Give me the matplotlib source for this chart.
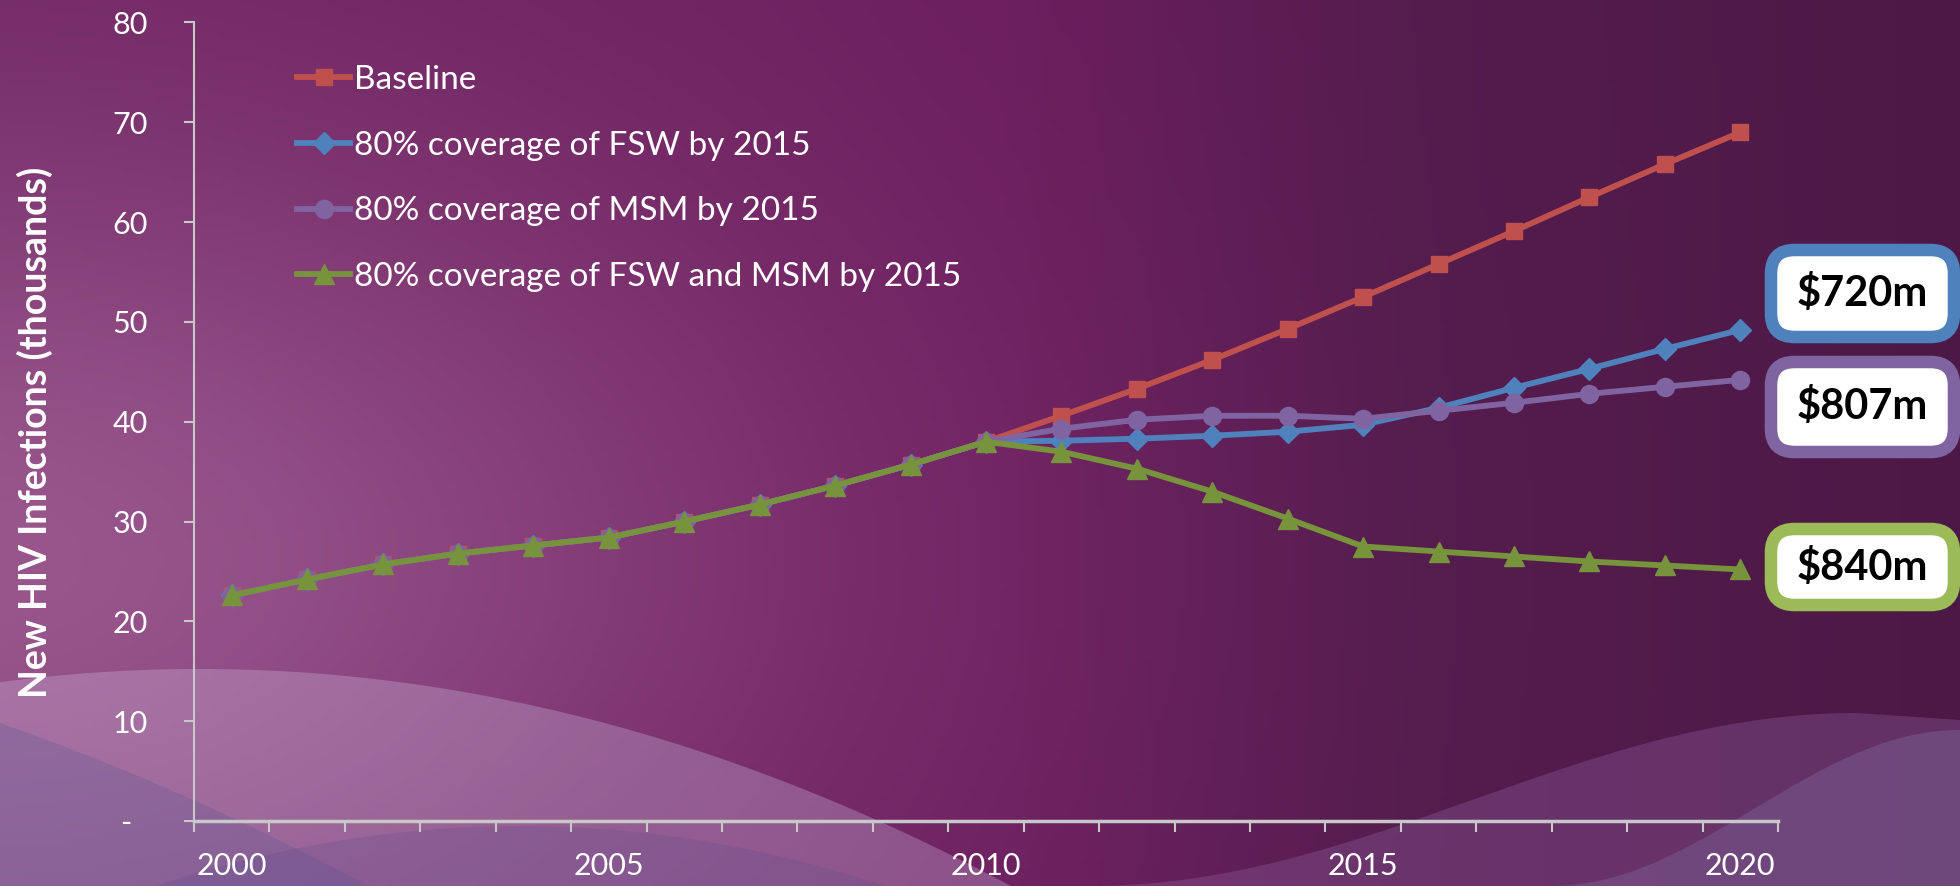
import matplotlib
matplotlib.use("Agg")
import matplotlib.pyplot as plt
import numpy as np
from matplotlib.patches import FancyBboxPatch

plt.rcParams["font.family"] = ["Lato", "DejaVu Sans"]

# données (milliers de nouvelles infections)
years = list(range(2000, 2021))
common = [22.6, 24.2, 25.7, 26.8, 27.6, 28.4, 30.0, 31.7, 33.6, 35.7, 38.0]
baseline = common + [40.6, 43.3, 46.2, 49.3, 52.5, 55.8, 59.1, 62.5, 65.8, 69.0]
fsw = common + [38.1, 38.3, 38.6, 39.0, 39.7, 41.4, 43.4, 45.3, 47.3, 49.2]
msm = common + [39.3, 40.2, 40.6, 40.6, 40.3, 41.1, 41.9, 42.8, 43.5, 44.2]
both = common + [37.0, 35.3, 33.0, 30.3, 27.5, 27.0, 26.5, 26.0, 25.6, 25.2]

labels = ["Baseline", "80% coverage of FSW by 2015",
          "80% coverage of MSM by 2015", "80% coverage of FSW and MSM by 2015"]
costs = ["$720m", "$807m", "$840m"]

W, H = 1960, 886
fig = plt.figure(figsize=(W / 100, H / 100), dpi=100)

# --- fond dégradé violet + vagues (décor, en pixels)
bg = fig.add_axes([0, 0, 1, 1], zorder=-2)
xx, yy = np.meshgrid(np.linspace(0, W, 400), np.linspace(0, H, 200))
ax_x = np.array([0, 700, 1000, 1400, 1960])
r = np.interp(xx, ax_x, [112, 110, 108, 85, 76])
g = np.interp(xx, ax_x, [38, 34, 30, 28, 25])
b = np.interp(xx, ax_x, [98, 96, 94, 78, 70])
blob = np.exp(-((xx / 750) ** 2 + ((yy - 560) / 420) ** 2))
img = np.dstack([r + 40 * blob, g + 48 * blob, b + 42 * blob]) / 255.0
bg.imshow(np.clip(img, 0, 1), extent=[0, W, H, 0], aspect="auto")
bg.set_xlim(0, W)
bg.set_ylim(H, 0)
bg.axis("off")

px = np.linspace(0, W, 800)
wave_left = 669 + 3.3e-4 * (px - 200) ** 2
bg.fill_between(px, np.minimum(wave_left, H), H, color="#d2c4e6", alpha=0.3, lw=0)
band_left = 723 + 0.35 * px + 2.5e-4 * px ** 2
bg.fill_between(px, np.minimum(band_left, H), H, color="#6a5a95", alpha=0.35, lw=0)
bump = 826 + 4.5e-4 * (px - 520) ** 2
bg.fill_between(px, np.minimum(bump, H), H, color="#5a4a90", alpha=0.22, lw=0)
t = np.clip((1857 - px) / 767, 0, 1)
wave_right = np.where(px < 1857, 713 + 173 * (1 - np.cos(np.pi * t)) / 2,
                      713 + 7 * (px - 1857) / 103)
bg.fill_between(px, np.minimum(wave_right, H), H, color="#9a6ab0", alpha=0.3, lw=0)
t2 = np.clip((W - px) / 409, 0, 1)
band_right = np.where(px > 1551, 730 + 156 * (1 - np.cos(np.pi * t2)) / 2, H)
bg.fill_between(px, band_right, H, color="#8a7ab0", alpha=0.3, lw=0)

# --- graphique principal
ax = fig.add_axes([194 / W, 1 - 821 / H, (1778 - 194) / W, (821 - 22.5) / H])
ax.set_facecolor("none")
x = np.arange(len(years))

ax.plot(x, baseline, color="#C0504D", lw=4.2, marker="s", ms=11, label=labels[0])
ax.plot(x, fsw, color="#4F81BD", lw=4.2, marker="D", ms=11, label=labels[1])
ax.plot(x, msm, color="#8064A2", lw=4.2, marker="o", ms=13, label=labels[2])
ax.plot(x, both, color="#77933C", lw=4.2, marker="^", ms=14, label=labels[3])

ax.set_xlim(-0.5, len(years) - 0.5)
ax.set_ylim(0, 80)
ax.set_xticks(x[::5])
ax.set_xticklabels([str(y) for y in years[::5]])
ax.set_xticks(np.arange(-0.5, len(years) + 0.5, 1), minor=True)
ax.tick_params(axis="x", which="major", length=0, pad=22, labelsize=22, colors="white")
ax.tick_params(axis="x", which="minor", length=8, width=1.5, color="#C8C8C8", direction="out")
ax.set_yticks(range(0, 81, 10))
ax.set_yticklabels(["-  "] + [str(v) for v in range(10, 81, 10)])
ax.tick_params(axis="y", length=7, width=1.5, color="#C8C8C8", pad=26,
               labelsize=22, labelcolor="white")

for s in ["top", "right"]:
    ax.spines[s].set_visible(False)
ax.spines["left"].set_color("#C8C8C8")
ax.spines["left"].set_linewidth(1.5)
ax.spines["bottom"].set_color("#C8C8C8")
ax.spines["bottom"].set_linewidth(2.5)

fig.text(35 / W, 1 - 432 / H, "New HIV Infections (thousands)", fontsize=27,
         fontweight="bold", color="white", rotation=90, ha="center", va="center")

leg = ax.legend(loc="upper left", bbox_to_anchor=(267 / W, 1 - 35 / H),
                bbox_transform=fig.transFigure, frameon=False, fontsize=24,
                handlelength=1.6, handletextpad=0.1, labelspacing=1.07)
for txt in leg.get_texts():
    txt.set_color("white")

# --- étiquettes de coût
box_colors = ["#4F81BD", "#8064A2", "#9BBB59"]
box_y = [(250, 337), (362, 452), (529, 605)]
for cost, col, (y0, y1) in zip(costs, box_colors, box_y):
    x0, x1 = 1771, 1954
    p = FancyBboxPatch((x0 / W, 1 - y1 / H), (x1 - x0) / W, (y1 - y0) / H,
                       boxstyle="round,pad=0,rounding_size=0.012",
                       transform=fig.transFigure, fc="white", ec=col, lw=9,
                       mutation_aspect=W / H)
    fig.patches.append(p)
    fig.text((x0 + x1) / 2 / W, 1 - (y0 + y1) / 2 / H, cost, fontsize=30,
             fontweight="bold", color="black", ha="center", va="center")

fig.savefig("out.png", dpi=100)
